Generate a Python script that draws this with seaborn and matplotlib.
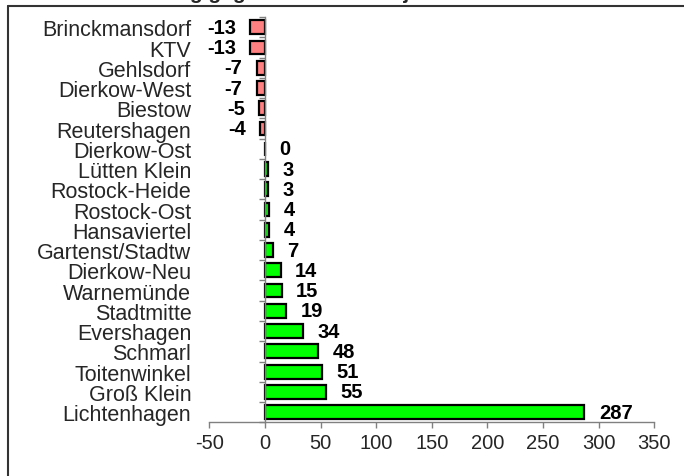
import numpy as np
import pandas as pd
import seaborn as sns
import matplotlib.pyplot as plt
from matplotlib.lines import Line2D

# Daten: Veränderung je Stadtteil (von oben nach unten)
stadtteile = ["Brinckmansdorf", "KTV", "Gehlsdorf", "Dierkow-West", "Biestow",
              "Reutershagen", "Dierkow-Ost", "Lütten Klein", "Rostock-Heide",
              "Rostock-Ost", "Hansaviertel", "Gartenst/Stadtw", "Dierkow-Neu",
              "Warnemünde", "Stadtmitte", "Evershagen", "Schmarl", "Toitenwinkel",
              "Groß Klein", "Lichtenhagen"]
werte = [-13, -13, -7, -7, -5, -4, 0, 3, 3, 4, 4, 7, 14, 15, 19, 34, 48, 51, 55, 287]
x_ticks = [-50, 0, 50, 100, 150, 200, 250, 300, 350]

df = pd.DataFrame({"Stadtteil": stadtteile, "Wert": werte})
df["Vorzeichen"] = np.where(df["Wert"] < 0, "neg", "pos")

sns.set_theme(style="white")
plt.rcParams["font.family"] = ["Liberation Sans", "DejaVu Sans"]

fig = plt.figure(figsize=(6.84, 4.77), dpi=100)
ax = fig.add_axes([0.306, 0.1126, 0.6506, 0.8494])

sns.barplot(data=df, x="Wert", y="Stadtteil", hue="Vorzeichen", orient="h",
            palette={"neg": "#FF8080", "pos": "#00FF00"}, saturation=1,
            dodge=False, width=0.68, edgecolor="black", linewidth=1.6,
            legend=False, ax=ax)

for c in ax.containers:
    ax.bar_label(c, fmt="%d", padding=10.5, fontsize=14.5, fontweight="bold",
                 color="black")

ax.set_xlim(-50, 350)
ax.set_ylim(len(stadtteile) - 0.5, -0.5)
ax.set_xticks(x_ticks)
ax.set_xticklabels([str(t) for t in x_ticks], fontsize=14.5)
ax.set_xlabel("")
ax.set_ylabel("")

# y-Achse bei 0, Beschriftung weit links, Striche zwischen den Kategorien
ax.spines["left"].set_position(("data", 0))
ax.spines["top"].set_visible(False)
ax.spines["right"].set_visible(False)
for s in ["left", "bottom"]:
    ax.spines[s].set_color("#808080")
    ax.spines[s].set_linewidth(1.0)

ax.set_yticks(range(len(stadtteile)))
ax.set_yticklabels(stadtteile, fontsize=15.5)
ax.set_yticks(np.arange(-0.5, len(stadtteile), 1), minor=True)
ax.tick_params(axis="y", which="major", length=0, pad=53)
ax.tick_params(axis="y", which="minor", left=True, length=4.5, width=1,
               color="#808080")
ax.tick_params(axis="x", bottom=True, length=4, width=1, color="#808080", pad=4)

# Rahmen des Diagrammbereichs (rechts/unten abgeschnitten)
fig.add_artist(Line2D([8 / 684, 1], [1 - 6.5 / 477, 1 - 6.5 / 477],
                      transform=fig.transFigure, color="#333333", lw=1.5))
fig.add_artist(Line2D([8 / 684, 8 / 684], [0, 1 - 6.5 / 477],
                      transform=fig.transFigure, color="#333333", lw=1.5))

# Titel, oben fast vollständig abgeschnitten
fig.text(0.5, 1 + 1.0 / 477, "Veränderung gegenüber dem Vorjahr nach Stadtteilen",
         ha="center", va="baseline", fontsize=15, fontweight="bold")

fig.savefig("out.png", dpi=100)
